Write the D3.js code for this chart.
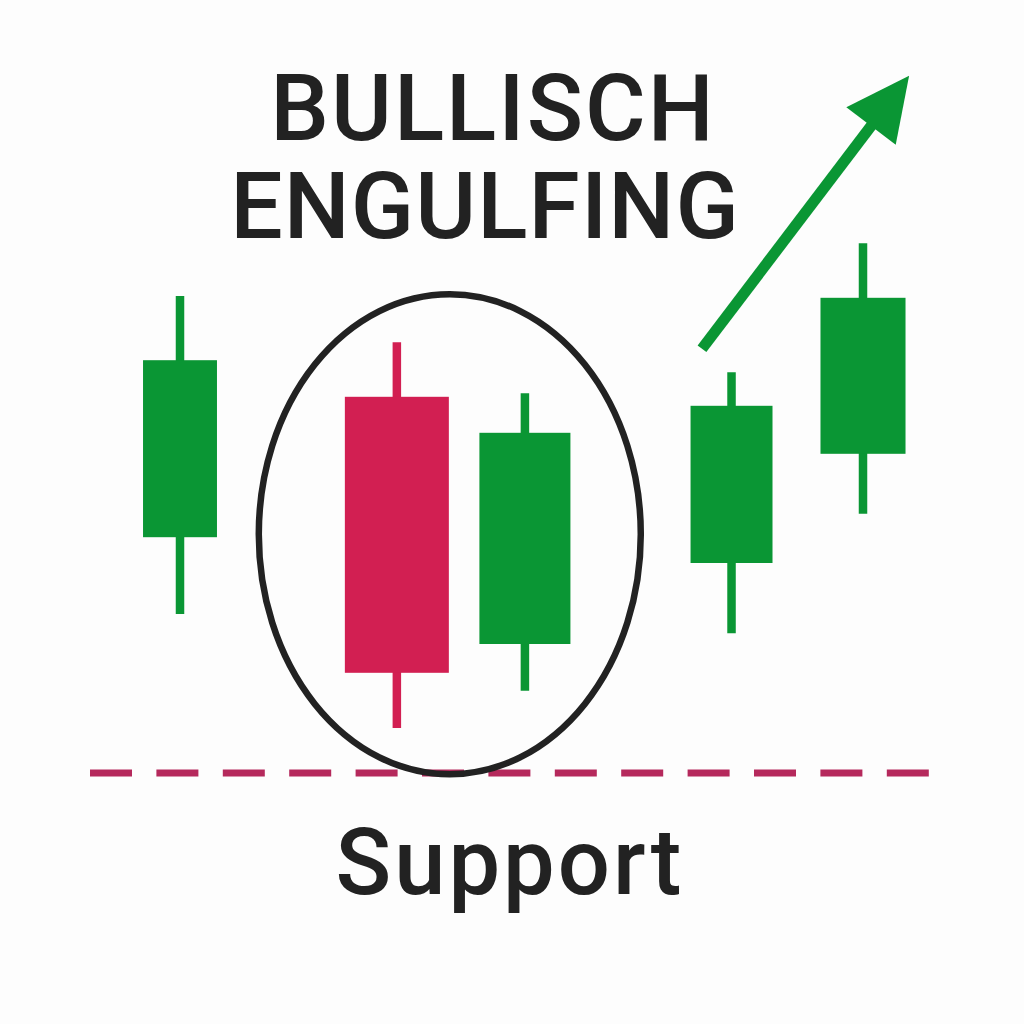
<!DOCTYPE html>
<html>
<head>
<meta charset="utf-8">
<script src="https://cdn.jsdelivr.net/npm/d3@7"></script>
<style>
  html, body { margin: 0; padding: 0; background: #fdfdfd; }
  svg { display: block; }
</style>
</head>
<body>
<svg id="chart" width="1024" height="1024"></svg>
<script>
// candle data (price units)
const candles = ['C1', 'C2', 'C3', 'C4', 'C5'];
const sessions = [0, 1.27, 2.02, 3.23, 4];
const opens = [43.8, 67.2, 26.0, 39.5, 57.7];
const closes = [73.3, 21.2, 61.2, 65.7, 83.7];
const highs = [84.0, 76.3, 67.8, 71.3, 92.8];
const lows = [31.0, 12.0, 18.2, 27.8, 47.7];
const supportLevel = 4.5;

const titleLines = ['BULLISCH', 'ENGULFING'];
const supportLabel = 'Support';

// layout
const width = 1024;
const height = 1024;
const bodyWidthUnits = [0.433, 0.609, 0.533, 0.48, 0.498];
const green = '#0a9634';
const red = '#d21f52';
const ink = '#222222';

const data = candles.map((name, i) => ({
  name,
  t: sessions[i],
  open: opens[i],
  close: closes[i],
  high: highs[i],
  low: lows[i],
  w: bodyWidthUnits[i]
}));

const svg = d3.select('#chart');

const x = d3.scaleLinear().domain([0, 4]).range([180, 863]);
const y = d3.scaleLinear().domain([0, 100]).range([800, 200]);
const unit = x(1) - x(0);

// support line (drawn first so the ellipse sits on top)
svg
  .append('line')
  .attr('x1', 90)
  .attr('x2', 930)
  .attr('y1', y(supportLevel))
  .attr('y2', y(supportLevel))
  .attr('stroke', '#b5295c')
  .attr('stroke-width', 7)
  .attr('stroke-dasharray', '42,24.4');

// candles
const g = svg.append('g');

g.selectAll('.wick')
  .data(data)
  .enter()
  .append('line')
  .attr('class', 'wick')
  .attr('x1', (d) => x(d.t))
  .attr('x2', (d) => x(d.t))
  .attr('y1', (d) => y(d.high))
  .attr('y2', (d) => y(d.low))
  .attr('stroke', (d) => (d.close >= d.open ? green : red))
  .attr('stroke-width', 8.5);

g.selectAll('.body')
  .data(data)
  .enter()
  .append('rect')
  .attr('class', 'body')
  .attr('x', (d) => x(d.t) - (d.w * unit) / 2)
  .attr('width', (d) => d.w * unit)
  .attr('y', (d) => y(Math.max(d.open, d.close)))
  .attr('height', (d) => Math.abs(y(d.open) - y(d.close)))
  .attr('fill', (d) => (d.close >= d.open ? green : red));

// ellipse around the engulfing pair
svg
  .append('ellipse')
  .attr('cx', x(1.58))
  .attr('cy', y(44.3))
  .attr('rx', 191)
  .attr('ry', 240)
  .attr('fill', 'none')
  .attr('stroke', ink)
  .attr('stroke-width', 6.5);

// trend arrow
const arrowFrom = [3.057, 75.2];
const arrowTo = [4.27, 120.7];
const x0 = x(arrowFrom[0]), y0 = y(arrowFrom[1]);
const x1 = x(arrowTo[0]), y1 = y(arrowTo[1]);
const ang = Math.atan2(y1 - y0, x1 - x0);
const headLen = 63;
const headHalf = 31;
const bx = x1 - headLen * Math.cos(ang);
const by = y1 - headLen * Math.sin(ang);
const px = -Math.sin(ang), py = Math.cos(ang);

svg
  .append('line')
  .attr('x1', x0)
  .attr('y1', y0)
  .attr('x2', bx + 4 * Math.cos(ang))
  .attr('y2', by + 4 * Math.sin(ang))
  .attr('stroke', green)
  .attr('stroke-width', 11);

svg
  .append('path')
  .attr('d', d3.line()([
    [x1, y1],
    [bx + headHalf * px, by + headHalf * py],
    [bx - headHalf * px, by - headHalf * py]
  ]) + 'Z')
  .attr('fill', green);

// texts
const font = 'Roboto, "Noto Sans", sans-serif';

const title = svg
  .append('text')
  .attr('text-anchor', 'middle')
  .attr('font-family', font)
  .attr('font-weight', 500)
  .attr('font-size', 93)
  .attr('fill', ink);

title
  .selectAll('tspan')
  .data(titleLines)
  .enter()
  .append('tspan')
  .attr('x', (d, i) => (i === 0 ? 493 : 485))
  .attr('y', (d, i) => 140 + i * 98)
  .attr('letter-spacing', (d, i) => (i === 0 ? 2 : 1.1))
  .text((d) => d);

svg
  .append('text')
  .attr('x', 510)
  .attr('y', 894)
  .attr('text-anchor', 'middle')
  .attr('font-family', font)
  .attr('font-weight', 500)
  .attr('font-size', 92)
  .attr('letter-spacing', 3)
  .attr('fill', ink)
  .text(supportLabel);
</script>
</body>
</html>
